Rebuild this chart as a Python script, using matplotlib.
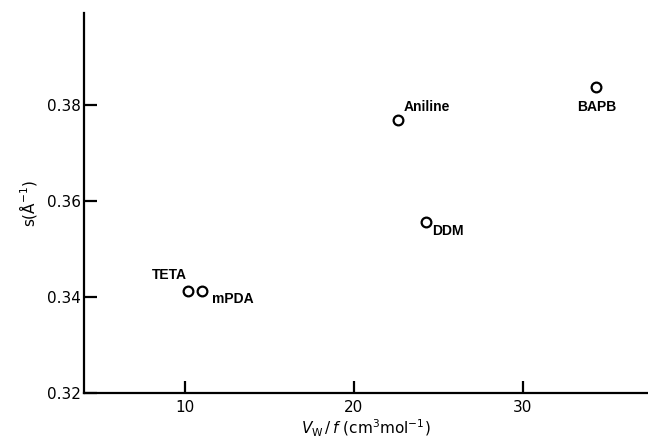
import matplotlib
matplotlib.use("Agg")
import matplotlib.pyplot as plt

# Data
names = ['TETA', 'mPDA', 'Aniline', 'DDM', 'BAPB']
vw_f = [10.2, 11.0, 22.6, 24.3, 34.3]
s_vals = [0.3412, 0.3412, 0.3770, 0.3556, 0.3837]
xticks = [10, 20, 30]
yticks = [0.32, 0.34, 0.36, 0.38]
ytick_labels = ['0.32', '0.34', '0.36', '0.38']

# label placement (pixels offset, alignment)
label_style = {
    'TETA': ((-1, 16), 'right', 'center'),
    'mPDA': ((10, -8), 'left', 'center'),
    'Aniline': ((6, 13), 'left', 'center'),
    'DDM': ((6, -9), 'left', 'center'),
    'BAPB': ((1, -20), 'center', 'center'),
}

fig = plt.figure(figsize=(6.48, 4.41), dpi=100)
ax = fig.add_axes([84/648, 48/441, 1 - 84/648, (393-13)/441])

ax.plot(vw_f, s_vals, linestyle='none', marker='o', markersize=7,
        markerfacecolor='white', markeredgecolor='black', markeredgewidth=1.6)

for n, x, y in zip(names, vw_f, s_vals):
    off, ha, va = label_style[n]
    ax.annotate(n, (x, y), xytext=off, textcoords='offset pixels',
                ha=ha, va=va, fontsize=10, fontweight='bold',
                family='Liberation Sans')

ax.set_xlim(4.05, 37.4)
ax.set_ylim(0.32, 0.3992)
ax.set_xticks(xticks)
ax.set_xticklabels([str(t) for t in xticks])
ax.set_yticks(yticks)
ax.set_yticklabels(ytick_labels)

for side in ['top', 'right']:
    ax.spines[side].set_visible(False)
for side in ['left', 'bottom']:
    ax.spines[side].set_linewidth(1.6)

ax.tick_params(axis='both', direction='in', length=9, width=1.6, labelsize=11)
ax.tick_params(axis='y', pad=2)
ax.tick_params(axis='x', pad=5)

ax.set_ylabel(r's($\mathrm{\AA}^{-1}$)', fontsize=11, labelpad=6)
ax.set_xlabel(r'$V_\mathrm{W}\,/\,f$ (cm$^3$mol$^{-1}$)', fontsize=11, labelpad=2)

fig.savefig('out.png', dpi=100)
